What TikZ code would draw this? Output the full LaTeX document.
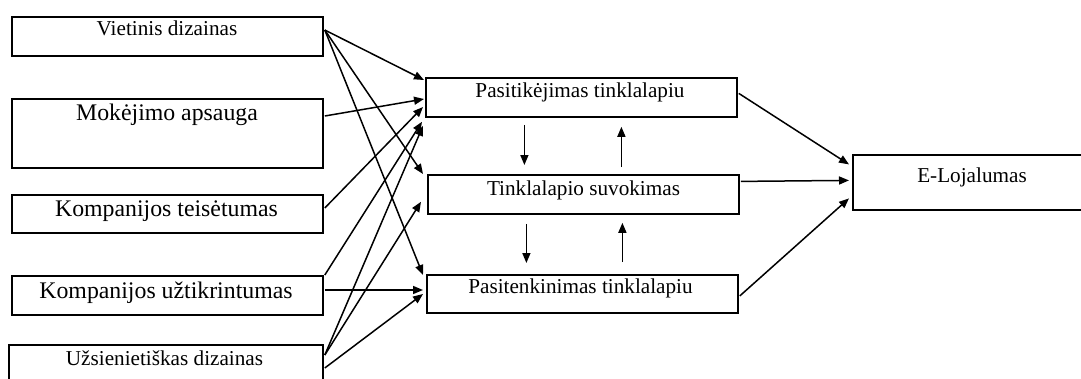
\documentclass[tikz,border=0pt]{standalone}
\usepackage{fontspec}
\setmainfont{Liberation Serif}
\usetikzlibrary{calc,arrows.meta}

\tikzset{
  box/.style={draw, line width=1.8pt, rectangle, inner sep=0pt, anchor=north west},
  lbl/.style={anchor=base, inner sep=0pt, font=\fontsize{21.2}{24}\selectfont},
  lblbig/.style={lbl, font=\fontsize{23.8}{27}\selectfont},
  arr/.style={line width=1.5pt, -{Triangle[length=10pt,width=8pt]}}
}

\begin{document}
\begin{tikzpicture}[x=1pt, y=-1pt]
\useasboundingbox (0,0) rectangle (1081,378);
\clip (0,0) rectangle (1081,378);

% factor boxes on the left
\node[box, minimum width=311pt, minimum height=39pt] (vd) at (11,16) {};
\node[box, minimum width=311pt, minimum height=69pt] (ma) at (11,98) {};
\node[box, minimum width=311pt, minimum height=38pt] (kt) at (11,194) {};
\node[box, minimum width=311pt, minimum height=39pt] (ku) at (11,275) {};
\node[box, minimum width=314pt, minimum height=60pt] (ud) at (8,344) {};

% mediating constructs
\node[box, minimum width=311pt, minimum height=39pt] (pt) at (425,77) {};
\node[box, minimum width=311pt, minimum height=39pt] (ts) at (427,174) {};
\node[box, minimum width=311pt, minimum height=38pt] (pk) at (426,274) {};

% outcome
\node[box, minimum width=240pt, minimum height=55pt] (el) at (852,154) {};

% labels
\node[lbl]    (tvd) at (167,35)  {Vietinis dizainas};
\node[lblbig] (tma) at (167,120) {Mokėjimo apsauga};
\node[lblbig] (tkt) at (166.5,216) {Kompanijos teisėtumas};
\node[lblbig] (tku) at (166,298) {Kompanijos užtikrintumas};
\node[lbl]    (tud) at (164.5,365) {Užsienietiškas dizainas};
\node[lbl]    (tpt) at (580,97)  {Pasitikėjimas tinklalapiu};
\node[lbl]    (tts) at (583.5,195) {Tinklalapio suvokimas};
\node[lbl]    (tpk) at (580.5,293) {Pasitenkinimas tinklalapiu};
\node[lbl]    (tel) at (972,182) {E-Lojalumas};

% Vietinis dizainas
\draw[arr] ($(vd.north east)+(1,14)$) -- ($(pt.north west)+(-1,3)$);
\draw[arr] ($(vd.north east)+(1,14)$) -- ($(ts.north west)+(-4,0)$);
\draw[arr] ($(vd.north east)+(1,14)$) -- ($(pk.north west)+(-3,1)$);

% Mokėjimo apsauga
\draw[arr] ($(ma.north east)+(1,18)$) -- ($(pt.north west)+(-1,22)$);

% Kompanijos teisėtumas
\draw[arr] ($(kt.north east)+(1,14)$) -- ($(pt.north west)+(-2,30)$);

% Kompanijos užtikrintumas
\draw[arr] ($(ku.north east)+(1,0)$) -- ($(pt.south west)+(-3,4)$);
\draw[arr] ($(ku.north east)+(1,15)$) -- ($(pk.north west)+(-3,16)$);

% Užsienietiškas dizainas
\draw[arr] ($(ud.north east)+(1,11)$) -- ($(pt.south west)+(-2,8)$);
\draw[arr] ($(ud.north east)+(1,11)$) -- ($(ts.south west)+(-6,-13)$);
\draw[arr] ($(ud.north east)+(1,24)$) -- ($(pk.north west)+(-3,20)$);

% links between the mediating constructs (vertical)
\coordinate (d1) at ($(pt.south)+(-57,7)$);
\coordinate (u1) at ($(pt.south)+(40,9)$);
\coordinate (d2) at ($(ts.south)+(-57,9)$);
\coordinate (u2) at ($(ts.south)+(39,8)$);
\draw[arr] (d1) -- ($(d1 |- ts.north)+(0,-9)$);
\draw[arr] ($(u1 |- ts.north)+(0,-7)$) -- (u1);
\draw[arr] (d2) -- ($(d2 |- pk.north)+(0,-11)$);
\draw[arr] ($(u2 |- pk.north)+(0,-12)$) -- (u2);

% paths to E-Lojalumas
\draw[arr] ($(pt.east)+(1,-4)$) -- ($(el.west)+(-3,-18)$);
\draw[arr] ($(ts.east)+(1,-13)$) -- ($(el.west)+(-3,-2)$);
\draw[arr] ($(pk.east)+(1,2)$) -- ($(el.west)+(-3,16)$);
\end{tikzpicture}
\end{document}
